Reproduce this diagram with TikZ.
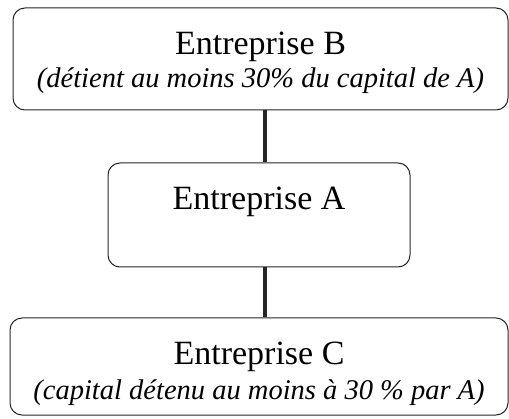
\documentclass[tikz,border=0pt]{standalone}
\usepackage{fontspec}
\setmainfont{Liberation Serif}
\begin{document}
\begin{tikzpicture}[x=1pt,y=1pt,
  firm/.style={draw=black!85,line width=1pt,rounded corners=12pt,inner sep=0pt},
  title/.style={anchor=base,inner sep=0pt,font=\fontsize{34}{40}\selectfont},
  note/.style={anchor=base,inner sep=0pt,font=\fontsize{28.5}{34}\selectfont\itshape},
  link/.style={line width=4pt,black!85}]

%frame of the page
    \useasboundingbox (0,0) rectangle (509,418);

%the three boxes
    \node[firm,minimum width=495,minimum height=102] (firmB) at (260.5,359) {};
    \node[firm,minimum width=302,minimum height=104] (firmA) at (259,203) {};
    \node[firm,minimum width=498,minimum height=97] (firmC) at (259,51.5) {};

%their texts
    \node[title] (nameB) at ([yshift=4]firmB.center) {Entreprise B};
    \node[note] (noteB) at ([yshift=-29]firmB.center) {(détient au moins 30\% du capital de A)};
    \node[title] (nameA) at ([yshift=5]firmA.center) {Entreprise A};
    \node[title] (nameC) at ([yshift=1.5]firmC.center) {Entreprise C};
    \node[note] (noteC) at ([yshift=-32.5]firmC.center) {(capital détenu au moins à 30~\% par A)};

%links between them
    \coordinate (linkA) at ([xshift=6]firmA.north);
    \coordinate (linkC) at ([xshift=6]firmA.south);
    \draw[link] (linkA |- firmB.south) -- (linkA);
    \draw[link] (linkC) -- (linkC |- firmC.north);

\end{tikzpicture}
\end{document}
